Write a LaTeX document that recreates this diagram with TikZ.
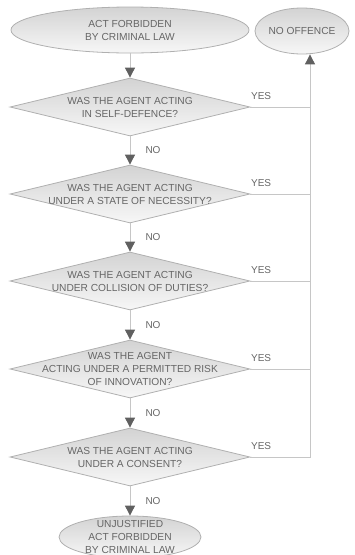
\documentclass[tikz,border=0pt]{standalone}
\usepackage{fontspec}
\setmainfont{Liberation Sans}
\usetikzlibrary{shapes.geometric,arrows.meta}

\definecolor{txtgray}{HTML}{666666}
\definecolor{linegray}{HTML}{C6C6C6}
\definecolor{edgegray}{HTML}{B0B0B0}
\definecolor{tipgray}{HTML}{606060}
\definecolor{shadetop}{HTML}{D3D3D3}
\definecolor{shadebot}{HTML}{F7F7F7}

\tikzset{
  box/.style={draw=edgegray, line width=0.8pt, top color=shadetop,
              bottom color=shadebot, inner sep=0pt},
  question/.style={box, diamond, minimum width=240pt, minimum height=58pt},
  terminal/.style={box, ellipse},
  txt/.style={text=txtgray, font=\fontsize{10.2}{13}\selectfont, align=center, inner sep=0pt},
  lbl/.style={text=txtgray, font=\fontsize{10}{12}\selectfont, inner sep=0pt},
  nolbl/.style={lbl, midway, xshift=23pt},
  yeslbl/.style={lbl, pos=0.18, yshift=11pt},
  conn/.style={draw=linegray, line width=0.9pt},
  arr/.style={conn, -{Triangle[width=10pt,length=10pt,color=tipgray]}},
}

\begin{document}
\begin{tikzpicture}[x=1pt,y=-1pt]
\useasboundingbox (0,0) rectangle (354,555);
\clip (0,0) rectangle (354,555);

% terminals
\node[terminal, minimum width=238pt, minimum height=46pt,
      label={[txt]center:{ACT FORBIDDEN\\BY CRIMINAL LAW}}] (start) at (130,30) {};
\node[terminal, minimum width=94pt, minimum height=46pt,
      label={[txt]center:{NO OFFENCE}}] (noff) at (302,31) {};
\node[terminal, minimum width=142pt, minimum height=42pt,
      label={[txt]center:{UNJUSTIFIED\\ACT FORBIDDEN\\BY CRIMINAL LAW}}] (final) at (130,537) {};

% questions
\node[question, label={[txt]center:{WAS THE AGENT ACTING\\IN SELF-DEFENCE?}}] (q1) at (130,107) {};
\node[question, label={[txt]center:{WAS THE AGENT ACTING\\UNDER A STATE OF NECESSITY?}}] (q2) at (130,194) {};
\node[question, label={[txt]center:{WAS THE AGENT ACTING\\UNDER COLLISION OF DUTIES?}}] (q3) at (130,281) {};
\node[question, label={[txt]center:{WAS THE AGENT\\ACTING UNDER A PERMITTED RISK\\OF INNOVATION?}}] (q4) at (130,369) {};
\node[question, label={[txt]center:{WAS THE AGENT ACTING\\UNDER A CONSENT?}}] (q5) at (130,457) {};

% main flow
\draw[arr] (start) -- (q1);
\draw[arr] (q1) -- node[nolbl]{NO} (q2);
\draw[arr] (q2) -- node[nolbl]{NO} (q3);
\draw[arr] (q3) -- node[nolbl]{NO} (q4);
\draw[arr] (q4) -- node[nolbl]{NO} (q5);
\draw[arr] (q5) -- node[nolbl]{NO} (final);

% YES branches join the rail up to NO OFFENCE
\coordinate (rail) at ([xshift=8pt]noff.south);
\draw[arr] (q5.east) -- node[yeslbl]{YES} (q5.east -| rail) -- (rail);
\draw[conn] (q1.east) -- node[yeslbl]{YES} (q1.east -| rail);
\draw[conn] (q2.east) -- node[yeslbl]{YES} (q2.east -| rail);
\draw[conn] (q3.east) -- node[yeslbl]{YES} (q3.east -| rail);
\draw[conn] (q4.east) -- node[yeslbl]{YES} (q4.east -| rail);
\end{tikzpicture}
\end{document}
